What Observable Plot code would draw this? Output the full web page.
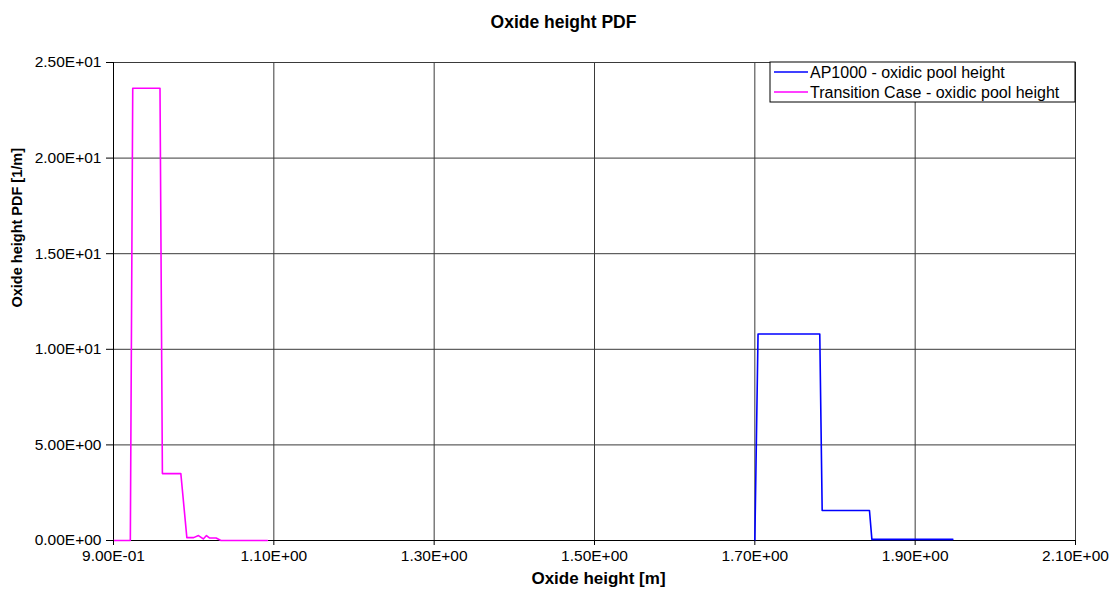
<!DOCTYPE html>
<html><head><meta charset="utf-8">
<script src="https://cdn.jsdelivr.net/npm/d3@7"></script>
<script src="https://cdn.jsdelivr.net/npm/@observablehq/plot@0.6"></script>
<style>body{margin:0;background:#fff}</style>
</head><body><div id="chart"></div>
<script>
const xTicks = [0.9, 1.1, 1.3, 1.5, 1.7, 1.9, 2.1];
const yTicks = [0, 5, 10, 15, 20, 25];
const apX = [1.700, 1.704, 1.781, 1.784, 1.843, 1.846, 1.947];
const apY = [0, 10.8, 10.8, 1.57, 1.57, 0.06, 0.06];
const tcX = [0.900, 0.921, 0.924, 0.958, 0.961, 0.984, 0.9915, 1.000, 1.006, 1.012, 1.016, 1.020, 1.028, 1.034, 1.092];
const tcY = [0, 0, 23.65, 23.65, 3.5, 3.5, 0.15, 0.15, 0.26, 0.08, 0.26, 0.13, 0.13, 0, 0];
const seriesNames = ["AP1000 - oxidic pool height", "Transition Case - oxidic pool height"];
const seriesColors = ["#0000FF", "#FF00FF"];

const apData = apX.map((x, i) => ({x, y: apY[i]}));
const tcData = tcX.map((x, i) => ({x, y: tcY[i]}));

function fmt(v) {
  const s = v.toExponential(2);
  const [m, e] = s.split("e");
  const sign = e[0] === "-" ? "-" : "+";
  return m + "E" + sign + String(Math.abs(+e)).padStart(2, "0");
}

const chart = Plot.plot({
  width: 1117, height: 592,
  marginLeft: 113, marginRight: 42, marginTop: 62, marginBottom: 52,
  x: {domain: [0.9, 2.1]},
  y: {domain: [0, 25]},
  style: {fontFamily: "'Liberation Sans', Arial, sans-serif", fontSize: "15px", color: "#000", background: "#fff"},
  marks: [
    Plot.gridX(xTicks, {stroke: "#3a3a3a", strokeOpacity: 1}),
    Plot.gridY(yTicks, {stroke: "#3a3a3a", strokeOpacity: 1}),
    Plot.ruleY([0], {stroke: "#000"}),
    Plot.ruleX([0.9], {stroke: "#000"}),
    Plot.line(apData, {x: "x", y: "y", stroke: seriesColors[0], strokeWidth: 1.6}),
    Plot.line(tcData, {x: "x", y: "y", stroke: seriesColors[1], strokeWidth: 1.6}),
    Plot.axisX({ticks: xTicks, tickFormat: () => "", tickSize: 5, label: null}),
    Plot.axisY({ticks: yTicks, tickFormat: () => "", tickSize: 7, label: null}),
    Plot.text(xTicks, {x: d => d, text: fmt, frameAnchor: "bottom", dy: 20, fontSize: 15.5, fill: "#000"}),
    Plot.text(yTicks, {y: d => d, text: fmt, frameAnchor: "left", dx: -12, textAnchor: "end", fontSize: 15.5, fill: "#000"}),
    Plot.text(["Oxide height PDF"], {frameAnchor: "top", dx: -31, dy: -47, fontWeight: "bold", fontSize: 17.5}),
    Plot.text(["Oxide height [m]"], {frameAnchor: "bottom", dx: 4, dy: 43, fontWeight: "bold", fontSize: 17}),
    Plot.text(["Oxide height PDF [1/m]"], {frameAnchor: "left", dx: -96, dy: 6, rotate: -90, fontWeight: "bold", fontSize: 14.5})
  ]
});
document.getElementById("chart").appendChild(chart);

const svg = d3.select(chart);
// legend inside plot area
const lg = svg.append("g").attr("transform", "translate(770,62)");
lg.append("rect").attr("width", 305).attr("height", 40).attr("fill", "#fff").attr("stroke", "#000");
seriesNames.forEach((name, i) => {
  const yy = 10 + i * 20;
  lg.append("line").attr("x1", 4).attr("x2", 38).attr("y1", yy).attr("y2", yy)
    .attr("stroke", seriesColors[i]).attr("stroke-width", 1.5);
  lg.append("text").attr("x", 40).attr("y", yy).attr("dy", "0.35em")
    .attr("text-anchor", "start").style("font-size", "16px").attr("fill", "#000").text(name);
});
</script>
</body></html>
